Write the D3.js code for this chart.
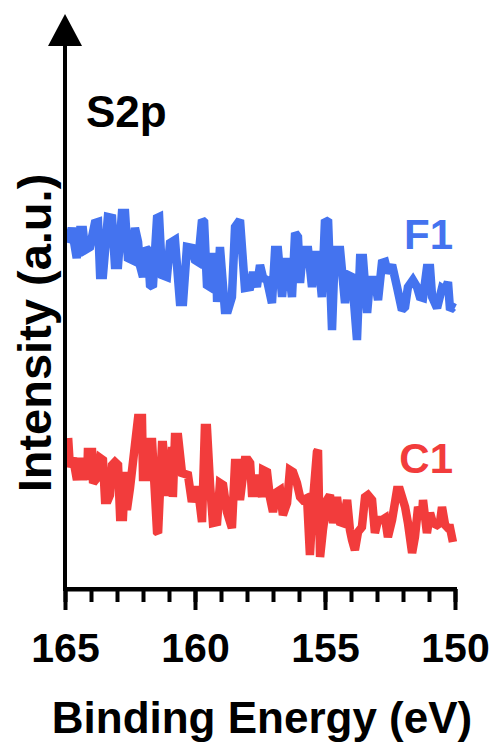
<!DOCTYPE html>
<html>
<head>
<meta charset="utf-8">
<script src="https://cdn.jsdelivr.net/npm/d3@7"></script>
<style>
  html, body { margin: 0; padding: 0; background: #fff; }
  text { font-family: "Liberation Sans", Arial, sans-serif; font-weight: bold; }
</style>
</head>
<body>
<div id="chart"></div>
<script>
// S2p region, binding energy (eV) and intensity (a.u.)
const f1Energy = [164.88, 164.74, 164.55, 164.42, 164.31, 164.23, 164.04, 163.85, 163.73, 163.65,
  163.54, 163.35, 163.19, 163.08, 162.96, 162.81, 162.69, 162.58, 162.42, 162.31,
  162.19, 162.12, 162.0, 161.88, 161.81, 161.73, 161.62, 161.46, 161.38, 161.27,
  161.08, 160.96, 160.77, 160.58, 160.46, 160.31, 160.12, 160.0, 159.88, 159.73,
  159.65, 159.54, 159.42, 159.31, 159.19, 159.15, 159.04, 158.85, 158.73, 158.58,
  158.46, 158.27, 158.08, 157.88, 157.77, 157.62, 157.5, 157.38, 157.23, 157.04,
  156.92, 156.81, 156.65, 156.54, 156.42, 156.27, 156.15, 156.04, 155.96, 155.85,
  155.65, 155.5, 155.38, 155.27, 155.12, 155.0, 154.88, 154.73, 154.62, 154.42,
  154.23, 154.12, 153.96, 153.77, 153.65, 153.54, 153.38, 153.27, 153.08, 152.96,
  152.81, 152.69, 152.58, 152.42, 152.23, 152.04, 151.92, 151.81, 151.62, 151.46,
  151.35, 151.23, 151.08, 150.96, 150.88, 150.69, 150.5, 150.38, 150.27, 150.19,
  150.08, 150.0];
const f1Intensity = [346, 361, 331, 359, 359, 339, 342, 366, 367, 314,
  314, 372, 371, 324, 324, 376, 376, 331, 329, 361,
  347, 324, 312, 341, 339, 304, 302, 371, 372, 314,
  312, 346, 349, 287, 287, 342, 341, 329, 327, 369,
  367, 304, 302, 332, 332, 287, 342, 279, 279, 292,
  362, 369, 301, 302, 317, 302, 324, 311, 309, 286,
  339, 339, 292, 327, 327, 292, 356, 352, 306, 339,
  339, 302, 334, 334, 292, 369, 367, 259, 339, 339,
  286, 314, 312, 249, 331, 331, 276, 309, 309, 289,
  326, 327, 316, 324, 302, 279, 282, 302, 309, 302,
  292, 291, 321, 321, 292, 281, 301, 299, 307, 279,
  282, 281];

const c1Energy = [164.88, 164.81, 164.69, 164.54, 164.42, 164.31, 164.23, 164.15, 164.12, 163.96,
  163.92, 163.77, 163.65, 163.54, 163.46, 163.35, 163.27, 163.19, 163.08, 162.96,
  162.88, 162.77, 162.69, 162.62, 162.5, 162.31, 162.19, 162.04, 162.0, 161.85,
  161.81, 161.65, 161.46, 161.42, 161.27, 161.23, 161.08, 160.96, 160.88, 160.85,
  160.77, 160.65, 160.5, 160.27, 160.12, 160.0, 159.88, 159.73, 159.62, 159.54,
  159.42, 159.31, 159.15, 159.04, 158.92, 158.77, 158.58, 158.46, 158.35, 158.27,
  158.08, 157.96, 157.88, 157.81, 157.69, 157.58, 157.42, 157.38, 157.23, 157.12,
  157.0, 156.85, 156.73, 156.62, 156.46, 156.35, 156.23, 156.08, 155.96, 155.85,
  155.69, 155.58, 155.46, 155.31, 155.27, 155.19, 155.08, 154.92, 154.81, 154.69,
  154.54, 154.42, 154.31, 154.15, 154.04, 153.96, 153.85, 153.73, 153.58, 153.46,
  153.35, 153.19, 153.08, 152.96, 152.81, 152.69, 152.58, 152.42, 152.23, 152.12,
  151.92, 151.81, 151.65, 151.54, 151.42, 151.27, 151.23, 151.08, 150.96, 150.85,
  150.69, 150.58, 150.5, 150.38, 150.27, 150.19, 150.08];
const c1Intensity = [151, 122, 131, 109, 131, 109, 131, 109, 137, 137,
  106, 111, 131, 129, 89, 89, 94, 124, 127, 124,
  72, 72, 117, 79, 101, 144, 171, 171, 112, 112,
  147, 147, 57, 56, 144, 144, 97, 97, 142, 92,
  152, 152, 116, 114, 87, 99, 99, 67, 161, 161,
  104, 66, 67, 106, 104, 77, 61, 126, 126, 89,
  129, 129, 126, 96, 96, 114, 92, 119, 117, 92,
  77, 97, 99, 74, 86, 119, 117, 106, 92, 89,
  91, 34, 89, 137, 139, 32, 59, 89, 94, 66,
  92, 67, 66, 89, 59, 49, 39, 57, 62, 92,
  94, 89, 56, 69, 69, 71, 52, 69, 99, 99,
  82, 66, 36, 52, 82, 72, 89, 56, 76, 66,
  64, 66, 82, 64, 61, 61, 47];

const xTicks = [165, 160, 155, 150];
const xMinorTicks = d3.range(165, 149, -1);
const seriesNames = ["F1", "C1"];
const seriesColors = ["#4473ef", "#f23c3c"];

const width = 490;
const height = 744;

const x = d3.scaleLinear().domain([165, 150]).range([65, 455]);
const y = d3.scaleLinear().domain([0, 575]).range([589, 14]);

const svg = d3.select("#chart").append("svg")
  .attr("width", width).attr("height", height);

// spectra
const series = [
  { name: seriesNames[0], color: seriesColors[0], pts: f1Energy.map((e, i) => [e, f1Intensity[i]]) },
  { name: seriesNames[1], color: seriesColors[1], pts: c1Energy.map((e, i) => [e, c1Intensity[i]]) },
];
const line = d3.line().x((d) => x(d[0])).y((d) => y(d[1]));

svg.selectAll("path.spec")
  .data(series)
  .enter()
  .append("path")
  .attr("class", "spec")
  .attr("d", (d) => line(d.pts))
  .attr("fill", "none")
  .attr("stroke", (d) => d.color)
  .attr("stroke-width", 8.5)
  .attr("stroke-linejoin", "miter")
  .attr("stroke-miterlimit", 2);

// x axis: minor ticks first, then the labelled majors on top
const gMinor = svg.append("g")
  .attr("transform", `translate(0,${y(0)})`)
  .call(d3.axisBottom(x).tickValues(xMinorTicks).tickSize(13).tickSizeOuter(0).tickFormat(""));
const gx = svg.append("g")
  .attr("transform", `translate(0,${y(0)})`)
  .call(d3.axisBottom(x).tickValues(xTicks).tickSize(21).tickSizeOuter(0).tickPadding(23).tickFormat(d3.format("d")));

[gMinor, gx].forEach((g) => {
  g.selectAll("path, line").attr("stroke", "#000").attr("stroke-width", 4);
});
gx.select(".domain").attr("d", `M${x(165) - 2},0H${x(150) + 2}`);
gx.selectAll("text")
  .attr("fill", "#000")
  .style("font-size", "41px")
  .style("font-family", "Liberation Sans, Arial, sans-serif")
  .style("font-weight", "bold");

// y axis with arrow head (no ticks)
svg.append("line")
  .attr("x1", x(165)).attr("x2", x(165))
  .attr("y1", y(0) + 2).attr("y2", 40)
  .attr("stroke", "#000").attr("stroke-width", 4);
svg.append("path")
  .attr("d", d3.line()([[x(165), 14], [x(165) - 17, 46], [x(165) + 17, 46]]) + "Z")
  .attr("fill", "#000");

// texts
svg.append("text")
  .attr("x", 86).attr("y", 127)
  .style("font-size", "44px")
  .text("S2p");

svg.append("text")
  .attr("x", 453).attr("y", 249)
  .attr("text-anchor", "end")
  .attr("fill", seriesColors[0])
  .style("font-size", "42px")
  .text(seriesNames[0]);
svg.append("text")
  .attr("x", 453).attr("y", 473)
  .attr("text-anchor", "end")
  .attr("fill", seriesColors[1])
  .style("font-size", "42px")
  .text(seriesNames[1]);

svg.append("text")
  .attr("x", 262).attr("y", 733)
  .attr("text-anchor", "middle")
  .style("font-size", "44px")
  .text("Binding Energy (eV)");

svg.append("text")
  .attr("transform", "translate(51,333) rotate(-90)")
  .attr("text-anchor", "middle")
  .style("font-size", "47px")
  .text("Intensity (a.u.)");
</script>
</body>
</html>
